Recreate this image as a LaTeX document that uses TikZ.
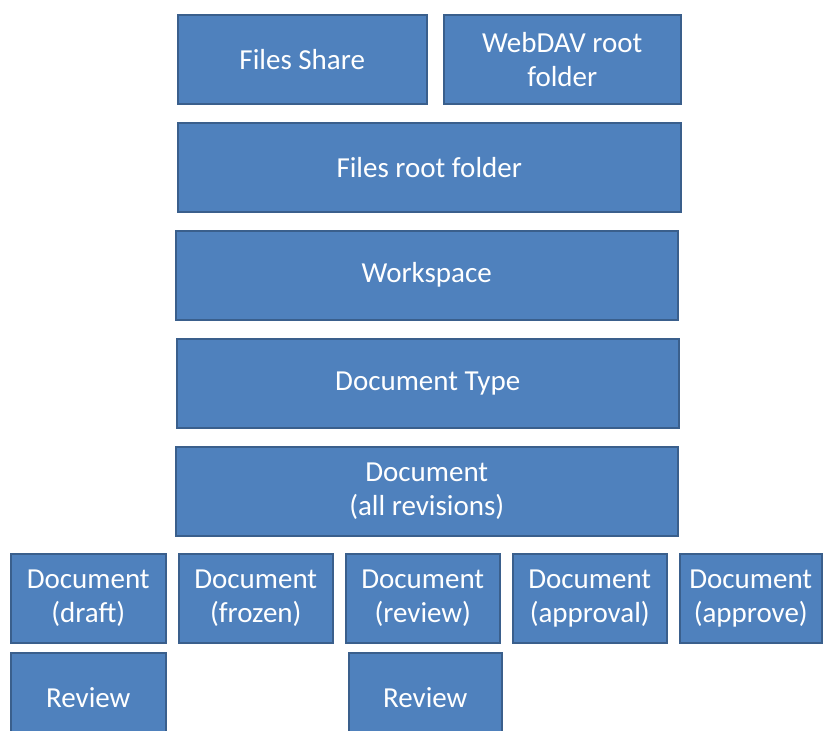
\documentclass[tikz,border=0pt]{standalone}
\usepackage{fontspec}
\setmainfont{Carlito}
\definecolor{boxfill}{HTML}{4F81BD}
\definecolor{boxline}{HTML}{3A5F8C}
\begin{document}
\begin{tikzpicture}[x=1pt,y=-1pt,
  blk/.style={draw=boxline, line width=1.5pt, fill=boxfill, text=white,
    anchor=north west, inner sep=0pt, align=center,
    font=\fontsize{29}{34}\selectfont},
]
\useasboundingbox (0,0) rectangle (823,731);
\begin{scope}
\clip (0,0) rectangle (823,731);
% top row
\node[blk, minimum width=249, minimum height=89] (share) at (177,14) {Files Share};
\node[blk, minimum width=237, minimum height=89] (webdav) at (443,14) {WebDAV root\\folder};
% stacked levels
\node[blk, minimum width=503, minimum height=89] (root) at (177,122) {Files root folder};
\node[blk, minimum width=502, minimum height=89] (ws) at (175,230) {Workspace};
\node[blk, minimum width=502, minimum height=89] (dtype) at (176,338) {Document Type};
\node[blk, minimum width=502, minimum height=89] (doc) at (175,446) {Document\\(all revisions)};
% revision states
\node[blk, minimum width=155, minimum height=89] (draft) at (10,553) {Document\\(draft)};
\node[blk, minimum width=154, minimum height=89] (frozen) at (178,553) {Document\\(frozen)};
\node[blk, minimum width=154, minimum height=89] (review) at (345,553) {Document\\(review)};
\node[blk, minimum width=154, minimum height=89] (approval) at (512,553) {Document\\(approval)};
\node[blk, minimum width=142, minimum height=89] (approve) at (679,553) {Document\\(approve)};
% reviews
\node[blk, minimum width=155, minimum height=89] (rev1) at (10,652) {Review};
\node[blk, minimum width=153, minimum height=89] (rev2) at (348,652) {Review};
\end{scope}
\end{tikzpicture}
\end{document}
